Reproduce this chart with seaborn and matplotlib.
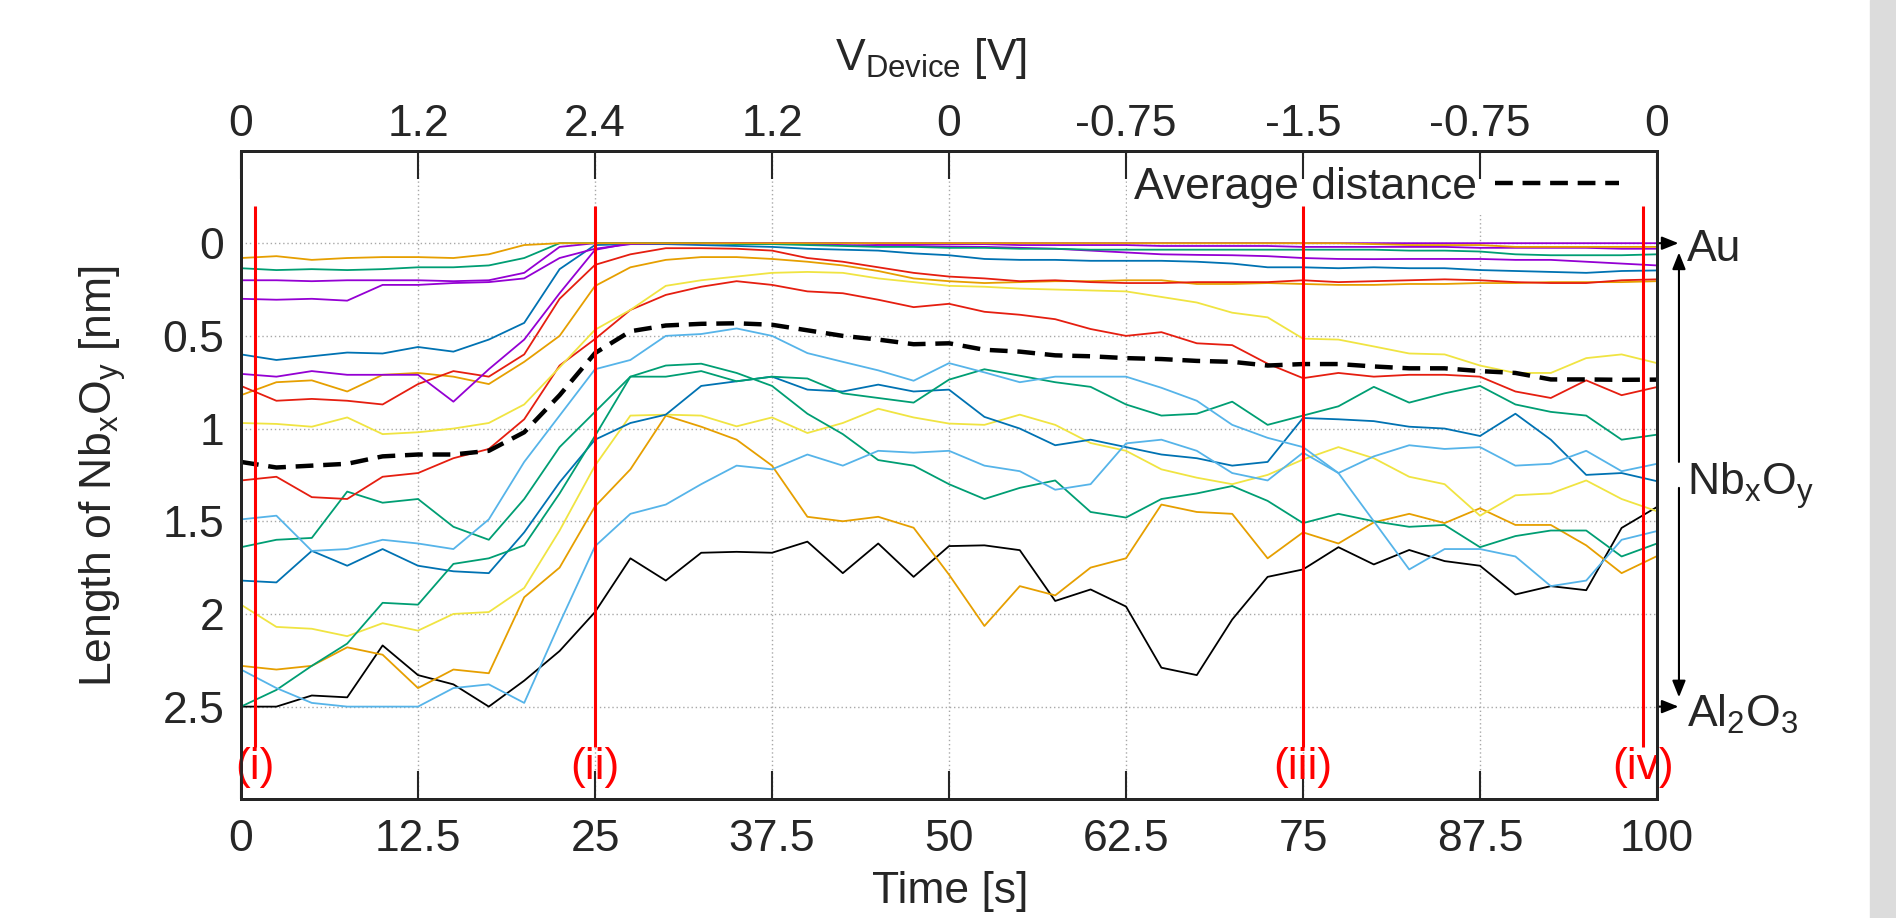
import numpy as np
import pandas                as pd
import seaborn               as sns
import matplotlib.pyplot     as plt
import matplotlib.transforms as mtransforms
from matplotlib.patches      import Rectangle


# time grid of the traces [s]
time_s = np.arange(0, 100.01, 2.5)

# length of NbxOy traces [nm], every 2.5 s
orange_top   = [0.08, 0.07, 0.09, 0.08, 0.075, 0.075, 0.08, 0.06, 0.01, 0.0, 0.0,
                0.0, 0.0, 0.0, 0.0, 0.0, 0.0, 0.0, 0.0, 0.0, 0.0,
                0.0, 0.0, 0.0, 0.0, 0.0, 0.0, 0.0, 0.0, 0.0, 0.0,
                0.0, 0.005, 0.01, 0.01, 0.01, 0.02, 0.02, 0.02, 0.02, 0.02]
green_top    = [0.135, 0.145, 0.14, 0.145, 0.14, 0.13, 0.13, 0.12, 0.08, 0.0, 0.0,
                0.0, 0.0, 0.0, 0.005, 0.005, 0.01, 0.015, 0.02, 0.02, 0.025,
                0.025, 0.03, 0.03, 0.035, 0.035, 0.035, 0.035, 0.035, 0.035, 0.035,
                0.035, 0.035, 0.04, 0.04, 0.045, 0.06, 0.065, 0.065, 0.065, 0.06]
purple_a     = [0.2, 0.2, 0.205, 0.2, 0.2, 0.2, 0.205, 0.2, 0.16, 0.02, 0.0,
                0.0, 0.0, 0.0, 0.0, 0.0, 0.0, 0.0, 0.0, 0.0, 0.0,
                0.0, 0.0, 0.0, 0.0, 0.0, 0.0, 0.0, 0.0, 0.0, 0.0,
                0.0, 0.0, 0.0, 0.0, 0.0, 0.0, 0.0, 0.0, 0.0, 0.0]
purple_b     = [0.3, 0.305, 0.3, 0.31, 0.225, 0.225, 0.215, 0.21, 0.19, 0.08, 0.03,
                0.005, 0.0, 0.0, 0.0, 0.0, 0.005, 0.01, 0.015, 0.015, 0.018,
                0.02, 0.025, 0.03, 0.04, 0.05, 0.06, 0.063, 0.065, 0.07, 0.08,
                0.085, 0.086, 0.085, 0.085, 0.085, 0.09, 0.09, 0.1, 0.11, 0.12]
purple_c     = [0.705, 0.72, 0.69, 0.71, 0.71, 0.71, 0.855, 0.68, 0.52, 0.27, 0.036,
                0.0, 0.0, 0.0, 0.0, 0.0, 0.0, 0.0, 0.005, 0.005, 0.005,
                0.005, 0.01, 0.01, 0.01, 0.01, 0.015, 0.015, 0.015, 0.015, 0.02,
                0.02, 0.02, 0.02, 0.02, 0.025, 0.025, 0.025, 0.025, 0.03, 0.03]
blue_a       = [0.6, 0.63, 0.61, 0.59, 0.595, 0.56, 0.585, 0.52, 0.43, 0.14, 0.01,
                0.005, 0.005, 0.01, 0.015, 0.02, 0.03, 0.035, 0.04, 0.055, 0.065,
                0.085, 0.09, 0.09, 0.095, 0.095, 0.095, 0.1, 0.11, 0.13, 0.13,
                0.135, 0.13, 0.135, 0.135, 0.145, 0.15, 0.155, 0.16, 0.15, 0.147]
red_a        = [0.77, 0.85, 0.84, 0.85, 0.87, 0.76, 0.69, 0.72, 0.6, 0.3, 0.117,
                0.06, 0.027, 0.027, 0.03, 0.04, 0.08, 0.1, 0.13, 0.16, 0.18,
                0.19, 0.205, 0.2, 0.21, 0.215, 0.215, 0.21, 0.21, 0.21, 0.2,
                0.21, 0.205, 0.2, 0.195, 0.2, 0.21, 0.215, 0.215, 0.2, 0.195]
orange_a     = [0.82, 0.75, 0.74, 0.8, 0.71, 0.7, 0.72, 0.76, 0.64, 0.5, 0.231,
                0.13, 0.09, 0.075, 0.075, 0.085, 0.1, 0.12, 0.15, 0.19, 0.205,
                0.215, 0.21, 0.205, 0.205, 0.2, 0.2, 0.22, 0.22, 0.215, 0.22,
                0.225, 0.225, 0.22, 0.22, 0.215, 0.215, 0.21, 0.21, 0.21, 0.205]
yellow_a     = [0.97, 0.975, 0.99, 0.94, 1.03, 1.02, 1.0, 0.97, 0.87, 0.67, 0.467,
                0.36, 0.23, 0.2, 0.18, 0.16, 0.155, 0.16, 0.19, 0.21, 0.23,
                0.235, 0.245, 0.25, 0.255, 0.26, 0.29, 0.32, 0.375, 0.4, 0.515,
                0.52, 0.557, 0.595, 0.6, 0.66, 0.7, 0.7, 0.62, 0.6, 0.647]
red_b        = [1.28, 1.26, 1.37, 1.38, 1.26, 1.24, 1.16, 1.11, 0.95, 0.66, 0.517,
                0.36, 0.279, 0.235, 0.205, 0.225, 0.26, 0.27, 0.305, 0.345, 0.327,
                0.37, 0.386, 0.41, 0.463, 0.5, 0.48, 0.54, 0.55, 0.65, 0.728,
                0.7, 0.72, 0.71, 0.71, 0.72, 0.8, 0.835, 0.74, 0.82, 0.776]
skyblue_a    = [1.49, 1.47, 1.66, 1.65, 1.6, 1.62, 1.65, 1.49, 1.18, 0.93, 0.68,
                0.63, 0.5, 0.49, 0.46, 0.5, 0.593, 0.64, 0.686, 0.742, 0.647,
                0.697, 0.75, 0.72, 0.72, 0.72, 0.78, 0.85, 0.98, 1.05, 1.1,
                1.24, 1.5, 1.76, 1.65, 1.65, 1.69, 1.85, 1.82, 1.6, 1.553]
skyblue_b    = [2.3, 2.4, 2.48, 2.5, 2.5, 2.5, 2.4, 2.38, 2.48, 2.05, 1.635,
                1.46, 1.41, 1.3, 1.2, 1.22, 1.14, 1.2, 1.12, 1.13, 1.12,
                1.2, 1.23, 1.33, 1.3, 1.08, 1.06, 1.12, 1.24, 1.28, 1.13,
                1.24, 1.15, 1.09, 1.11, 1.1, 1.2, 1.19, 1.12, 1.23, 1.19]
green_a      = [1.64, 1.6, 1.59, 1.34, 1.4, 1.38, 1.53, 1.6, 1.38, 1.1, 0.91,
                0.72, 0.72, 0.69, 0.745, 0.72, 0.73, 0.81, 0.835, 0.86, 0.736,
                0.68, 0.715, 0.75, 0.775, 0.87, 0.93, 0.92, 0.855, 0.98, 0.93,
                0.88, 0.775, 0.86, 0.81, 0.77, 0.87, 0.91, 0.93, 1.06, 1.033]
green_b      = [2.5, 2.41, 2.28, 2.16, 1.94, 1.95, 1.73, 1.7, 1.63, 1.35, 1.04,
                0.72, 0.66, 0.65, 0.7, 0.77, 0.92, 1.03, 1.17, 1.2, 1.3,
                1.38, 1.32, 1.28, 1.45, 1.48, 1.38, 1.35, 1.31, 1.39, 1.51,
                1.46, 1.5, 1.53, 1.52, 1.64, 1.58, 1.55, 1.55, 1.69, 1.62]
blue_b       = [1.82, 1.83, 1.66, 1.74, 1.65, 1.74, 1.77, 1.78, 1.56, 1.29, 1.06,
                0.97, 0.925, 0.77, 0.745, 0.72, 0.79, 0.8, 0.763, 0.8, 0.79,
                0.937, 1.0, 1.09, 1.06, 1.1, 1.14, 1.16, 1.2, 1.18, 0.943,
                0.95, 0.96, 0.99, 1.0, 1.04, 0.92, 1.06, 1.25, 1.24, 1.284]
yellow_b     = [1.95, 2.07, 2.08, 2.12, 2.05, 2.09, 2.0, 1.99, 1.86, 1.55, 1.2,
                0.93, 0.925, 0.93, 0.988, 0.94, 1.024, 0.97, 0.893, 0.94, 0.973,
                0.98, 0.925, 0.98, 1.078, 1.12, 1.22, 1.265, 1.3, 1.25, 1.167,
                1.1, 1.16, 1.26, 1.3, 1.47, 1.36, 1.35, 1.28, 1.38, 1.446]
orange_b     = [2.28, 2.3, 2.28, 2.18, 2.22, 2.4, 2.3, 2.32, 1.91, 1.75, 1.42,
                1.22, 0.93, 0.99, 1.06, 1.2, 1.476, 1.5, 1.476, 1.535, 1.788,
                2.065, 1.85, 1.9, 1.75, 1.7, 1.41, 1.45, 1.46, 1.7, 1.56,
                1.62, 1.506, 1.46, 1.51, 1.43, 1.52, 1.52, 1.63, 1.78, 1.688]
black_trace  = [2.5, 2.5, 2.44, 2.45, 2.17, 2.33, 2.38, 2.5, 2.36, 2.2, 1.99,
                1.7, 1.82, 1.67, 1.665, 1.67, 1.61, 1.78, 1.62, 1.8, 1.634,
                1.63, 1.656, 1.93, 1.868, 1.96, 2.29, 2.33, 2.03, 1.8, 1.76,
                1.64, 1.733, 1.655, 1.715, 1.74, 1.895, 1.85, 1.872, 1.536, 1.423]
average_dist = [1.18, 1.21, 1.2, 1.19, 1.15, 1.14, 1.14, 1.12, 1.02, 0.82, 0.593,
                0.475, 0.444, 0.435, 0.432, 0.44, 0.47, 0.5, 0.52, 0.545, 0.54,
                0.575, 0.585, 0.605, 0.61, 0.62, 0.625, 0.635, 0.64, 0.66, 0.652,
                0.652, 0.665, 0.675, 0.675, 0.69, 0.7, 0.735, 0.735, 0.737, 0.736]

trace_colors = {
    "black_trace" : "#000000",
    "orange_b"    : "#e69f00",
    "yellow_b"    : "#f0e442",
    "blue_b"      : "#0072b2",
    "green_b"     : "#009e73",
    "green_a"     : "#009e73",
    "skyblue_b"   : "#56b4e9",
    "skyblue_a"   : "#56b4e9",
    "red_b"       : "#e51e10",
    "yellow_a"    : "#f0e442",
    "orange_a"    : "#e69f00",
    "red_a"       : "#e51e10",
    "blue_a"      : "#0072b2",
    "purple_c"    : "#9400d3",
    "purple_b"    : "#9400d3",
    "purple_a"    : "#9400d3",
    "green_top"   : "#009e73",
    "orange_top"  : "#e69f00",
}

# time axis ticks and the matching device voltage
time_ticks   = [0, 12.5, 25, 37.5, 50, 62.5, 75, 87.5, 100]
time_labels  = ["0", "12.5", "25", "37.5", "50", "62.5", "75", "87.5", "100"]
volt_labels  = ["0", "1.2", "2.4", "1.2", "0", "-0.75", "-1.5", "-0.75", "0"]
len_ticks    = [0, 0.5, 1, 1.5, 2, 2.5]
len_labels   = ["0", "0.5", "1", "1.5", "2", "2.5"]

# marked instants
mark_times   = [1, 25, 75, 99]
mark_labels  = ["(i)", "(ii)", "(iii)", "(iv)"]


sns.set_style("white")
plt.rcParams["font.family"]      = ["Liberation Sans", "DejaVu Sans"]
plt.rcParams["mathtext.fontset"] = "custom"
plt.rcParams["mathtext.rm"]      = "Liberation Sans"
plt.rcParams["mathtext.it"]      = "Liberation Sans"
plt.rcParams["mathtext.default"] = "rm"

FS = 32

traces = {name: globals()[name] for name in trace_colors}
df = pd.concat(
    [pd.DataFrame({"time": time_s, "length": vals, "trace": name}) for name, vals in traces.items()],
    ignore_index=True
)

fig = plt.figure(figsize=(18.96, 9.18), dpi=100)
fig.patches.append(Rectangle((1870 / 1896, 0), 1, 1, transform=fig.transFigure,
                             color="#dcdcdc", zorder=0))
ax  = fig.add_axes([0.12711, 0.12930, 0.74684, 0.70675])

sns.lineplot(
    data      =df,
    x         ="time",
    y         ="length",
    hue       ="trace",
    hue_order =list(trace_colors),
    palette   =trace_colors,
    estimator =None,
    legend    =False,
    linewidth =1.3,
    ax        =ax
)

sns.lineplot(x=time_s, y=average_dist, color="black", linewidth=3.2, ax=ax, zorder=5)
avg_line = ax.lines[-1]
avg_line.set_linestyle((0, (4, 2.2)))

ax.vlines(mark_times, -0.2, 2.72, color="red", linewidth=2.2, zorder=6)
for t, lab in zip(mark_times, mark_labels):
    ax.text(t, 2.83, lab, color="red", ha="center", va="center", fontsize=FS,
            clip_on=False, zorder=7)

ax.set_xlim(0, 100)
ax.set_ylim(3.0, -0.5)
ax.set_xticks(time_ticks)
ax.set_xticklabels(time_labels)
ax.set_yticks(len_ticks)
ax.set_yticklabels(len_labels)
ax.set_xlabel("")
ax.set_ylabel("")
ax.grid(True, color="#a8a8a8", linestyle=(0, (1, 2)), linewidth=1.0)
ax.set_axisbelow(True)
ax.tick_params(axis="x", direction="in", length=20, width=1.5, labelsize=FS, pad=14, top=False)
ax.tick_params(axis="y", direction="in", length=20, width=1.5, labelsize=FS, pad=12, right=False)
for sp in ax.spines.values():
    sp.set_linewidth(2)
    sp.set_color("black")

ax_top = ax.twiny()
ax_top.set_xlim(0, 100)
ax_top.set_xticks(time_ticks)
ax_top.set_xticklabels(volt_labels)
ax_top.tick_params(axis="x", direction="in", length=20, width=1.5, labelsize=FS, pad=4)
for sp in ax_top.spines.values():
    sp.set_linewidth(2)

leg = ax.legend(
    handles        =[avg_line],
    labels         =["Average distance"],
    loc            ="center right",
    bbox_to_anchor =(0.978, 0.943),
    frameon        =True,
    facecolor      ="white",
    edgecolor      ="none",
    framealpha     =1.0,
    fancybox       =False,
    markerfirst    =False,
    handlelength   =2.8,
    handletextpad  =0.4,
    borderpad      =0.15,
    borderaxespad  =0,
    fontsize       =FS
)
leg.set_zorder(4)

# layer annotation on the right
side = mtransforms.blended_transform_factory(ax.transAxes, ax.transData)
arrow_kw = dict(arrowstyle="-|>,head_length=0.5,head_width=0.2", color="black",
                lw=1.5, mutation_scale=20, shrinkA=0, shrinkB=0)
ax.annotate("", xy=(1.0152, 0.0), xytext=(1.0, 0.0), xycoords=side, textcoords=side,
            arrowprops=arrow_kw, annotation_clip=False)
ax.annotate("", xy=(1.0152, 2.5), xytext=(1.0, 2.5), xycoords=side, textcoords=side,
            arrowprops=arrow_kw, annotation_clip=False)
ax.annotate("", xy=(1.0155, 0.05), xytext=(1.0155, 1.18), xycoords=side, textcoords=side,
            arrowprops=arrow_kw, annotation_clip=False)
ax.annotate("", xy=(1.0155, 2.45), xytext=(1.0155, 1.32), xycoords=side, textcoords=side,
            arrowprops=arrow_kw, annotation_clip=False)
ax.text(1.0212, 0.095, "Au", transform=side, fontsize=FS, va="baseline", ha="left")
ax.text(1.0212, 1.356, r"Nb$_{\mathregular{x}}$O$_{\mathregular{y}}$", transform=side,
        fontsize=FS, va="baseline", ha="left")
ax.text(1.0212, 2.61, r"Al$_{\mathregular{2}}$O$_{\mathregular{3}}$", transform=side,
        fontsize=FS, va="baseline", ha="left")

fig.text(931 / 1896, 1 - 70 / 918, r"V$_{\mathregular{Device}}$ [V]", ha="center",
         va="baseline", fontsize=FS)
fig.text(950 / 1896, 1 - 903 / 918, "Time [s]", ha="center", va="baseline", fontsize=FS)
fig.text(103 / 1896, 0.4815, r"Length of Nb$_{\mathregular{x}}$O$_{\mathregular{y}}$ [nm]",
         ha="center", va="center", rotation=90, fontsize=FS)

fig.savefig("out.png", dpi=100)
